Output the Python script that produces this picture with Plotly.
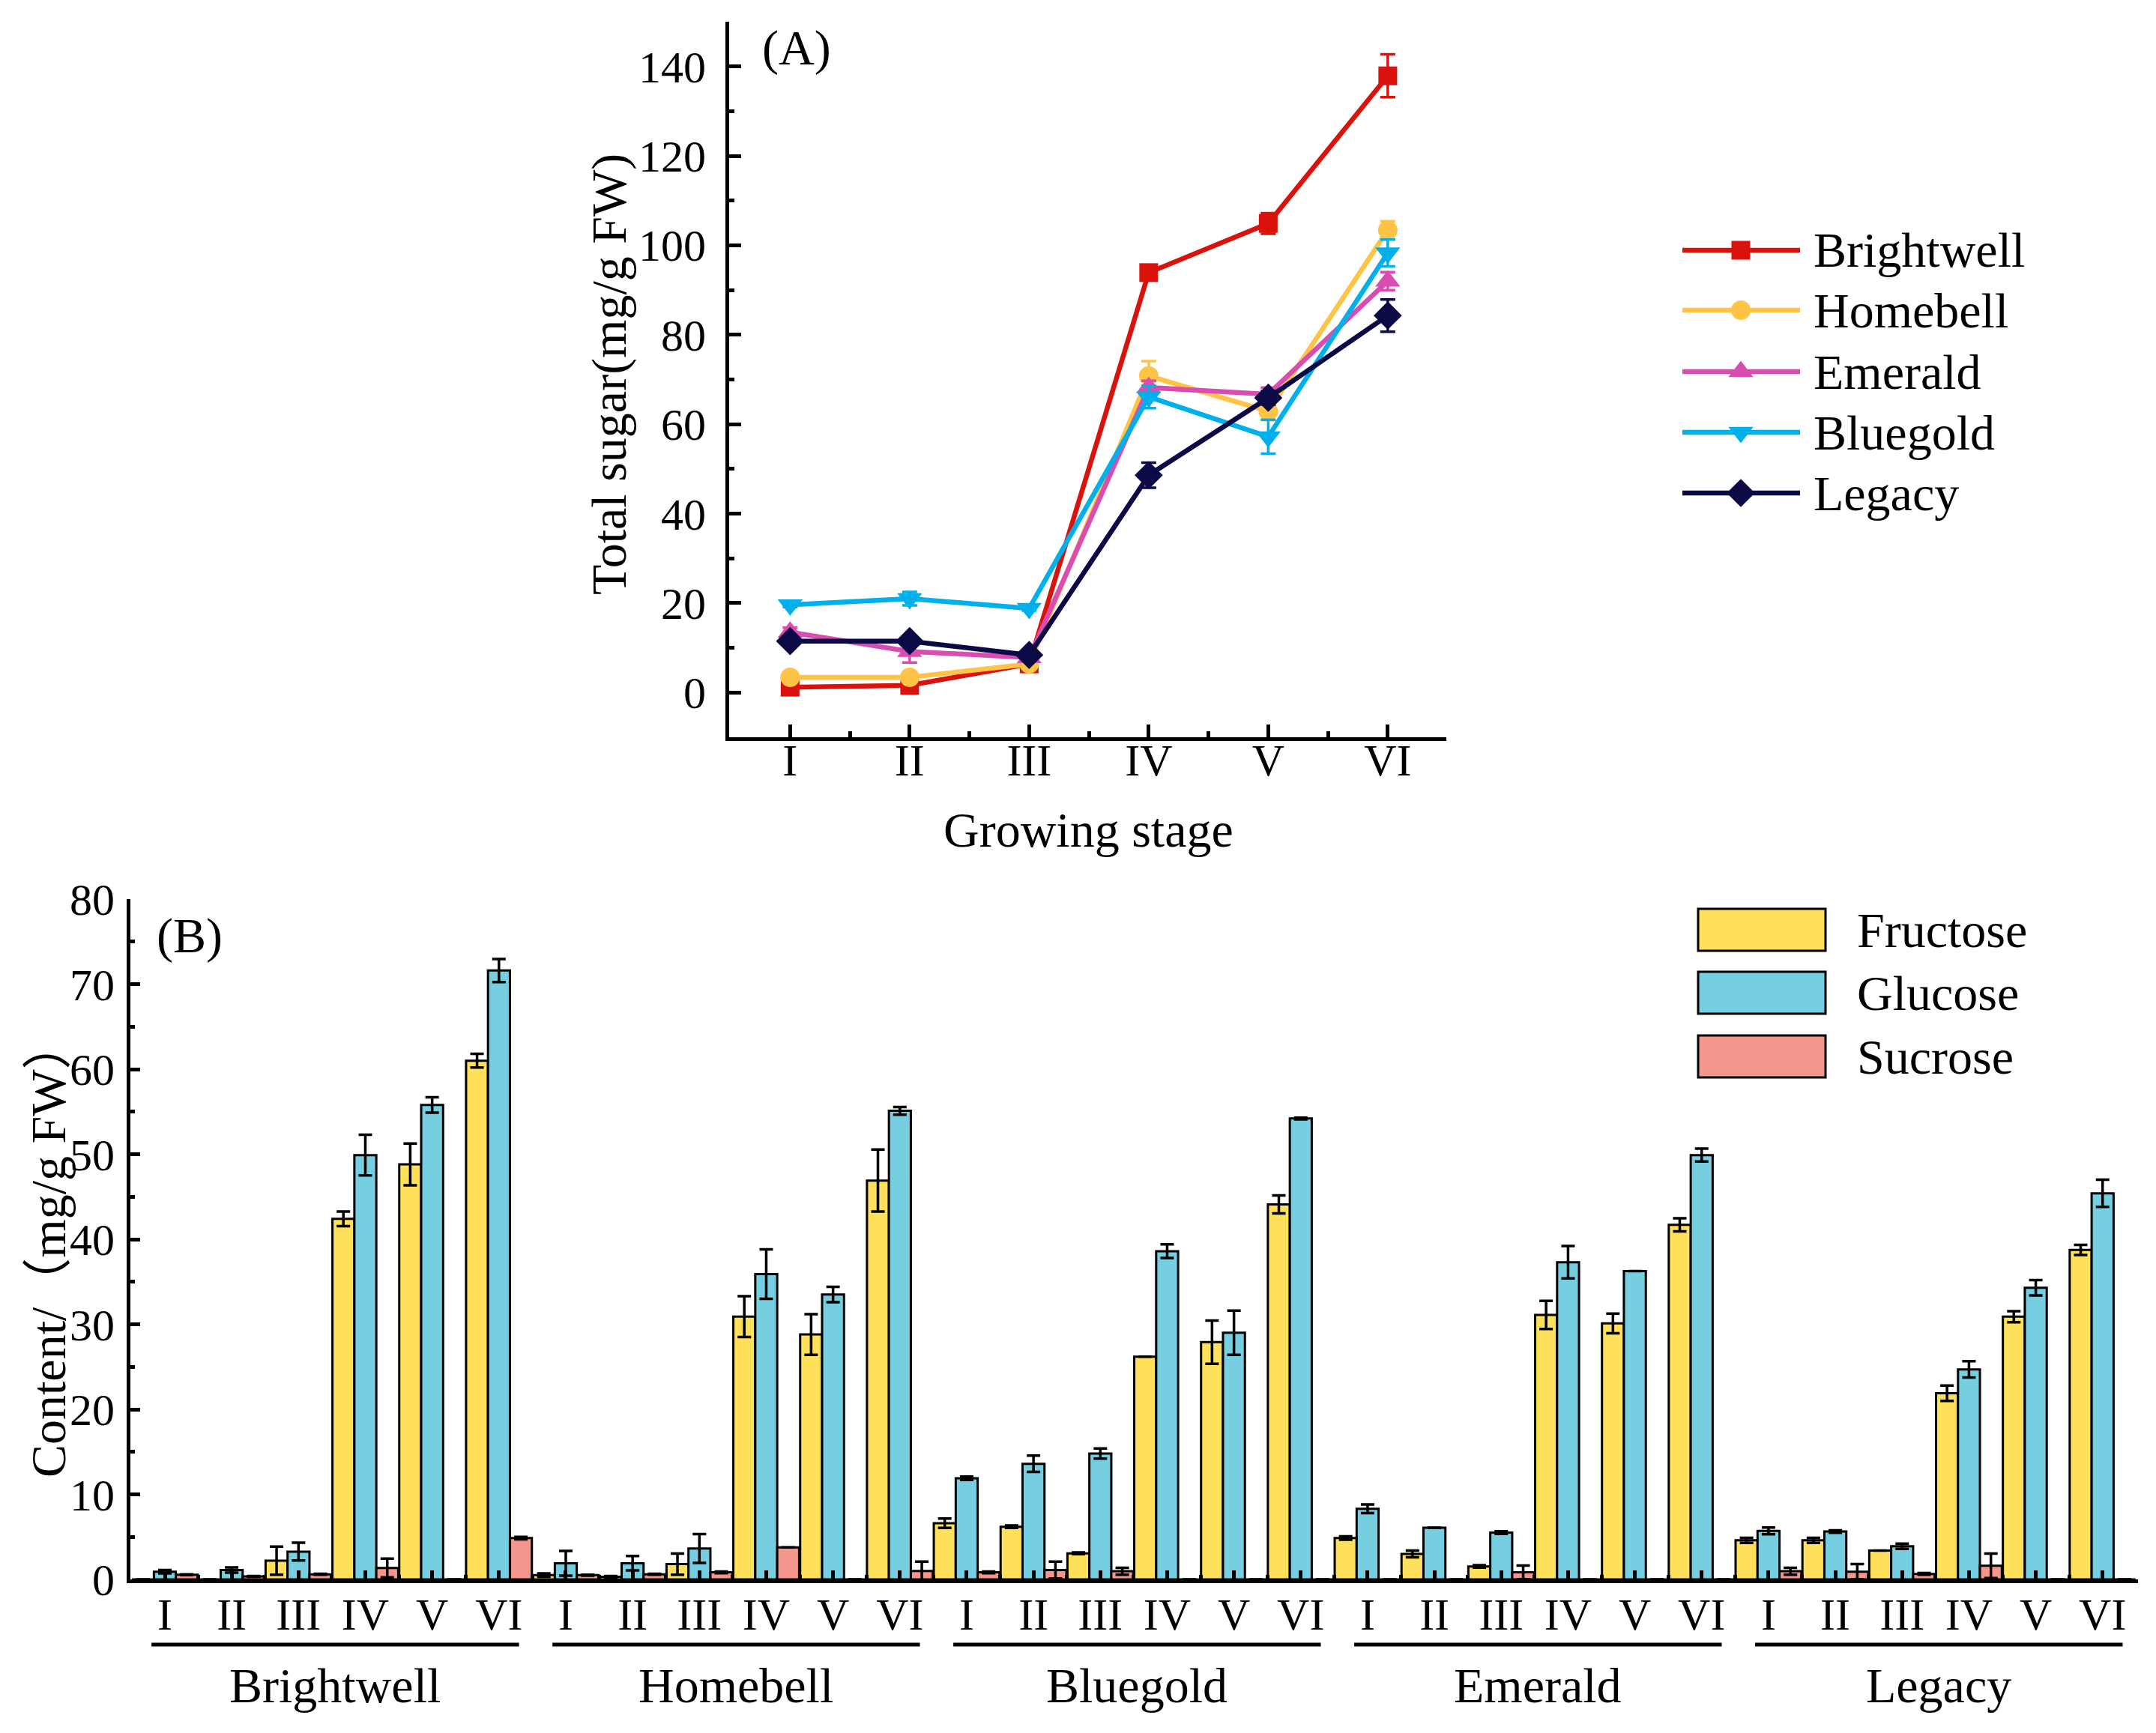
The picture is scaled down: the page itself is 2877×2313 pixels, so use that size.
import plotly.graph_objects as go

# ---------------- data ----------------
stages = ["I", "II", "III", "IV", "V", "VI"]

# Panel A: total sugar (mg/g FW)
series_a = ["Brightwell", "Homebell", "Emerald", "Bluegold", "Legacy"]
total_brightwell = [1.2, 1.6, 6.4, 93.9, 104.9, 137.9]
total_homebell = [3.4, 3.4, 6.4, 70.8, 62.9, 103.4]
total_emerald = [13.5, 9.2, 7.8, 68.2, 66.7, 92.0]
total_bluegold = [19.6, 21.0, 18.8, 66.1, 57.2, 98.3]
total_legacy = [11.5, 11.5, 8.4, 48.6, 65.9, 84.3]

err_brightwell = [0.3, 0.5, 0.5, 1.0, 2.3, 4.8]
err_homebell = [0.4, 0.4, 0.5, 3.3, 2.0, 2.0]
err_emerald = [1.0, 2.5, 0.5, 1.5, 1.5, 2.0]
err_bluegold = [0.5, 1.5, 0.5, 2.5, 3.8, 3.0]
err_legacy = [0.8, 0.8, 1.0, 2.8, 1.5, 3.6]

# Panel B: sugar components (mg/g FW), groups x stages
groups_b = ["Brightwell", "Homebell", "Bluegold", "Emerald", "Legacy"]
sugars_b = ["Fructose", "Glucose", "Sucrose"]
fructose = [0, 0, 2.2, 42.4, 48.8, 61.0,
            0.5, 0.3, 1.8, 30.9, 28.8, 46.9,
            6.6, 6.2, 3.07, 26.2, 27.9, 44.1,
            4.86, 3.0, 1.53, 31.1, 30.1, 41.7,
            4.6, 4.6, 3.4, 21.9, 30.9, 38.75]
glucose = [0.9, 1.1, 3.27, 49.9, 55.8, 71.6,
           1.9, 1.9, 3.64, 35.9, 33.5, 55.1,
           11.9, 13.6, 14.8, 38.6, 29.0, 54.2,
           8.3, 6.07, 5.5, 37.3, 36.25, 49.9,
           5.7, 5.63, 3.9, 24.7, 34.3, 45.4]
sucrose = [0.55, 0.35, 0.6, 1.34, 0, 4.86,
           0.5, 0.6, 0.83, 3.77, 0, 1.0,
           0.83, 1.1, 0.96, 0, 0, 0,
           0, 0, 0.83, 0, 0, 0,
           0.96, 0.9, 0.64, 1.6, 0, 0]
fructose_err = [None, None, 1.66, 0.86, 2.45, 0.8,
                0.2, 0.1, 1.25, 2.4, 2.4, 3.65,
                0.55, 0.15, 0.1, None, 2.55, 1.05,
                0.2, 0.4, 0.15, 1.65, 1.15, 0.77,
                0.3, 0.3, None, 0.9, 0.65, 0.6]
glucose_err = [0.2, 0.3, 1.05, 2.4, 0.9, 1.35,
               1.45, 0.85, 1.7, 2.9, 0.9, 0.45,
               0.2, 0.95, 0.6, 0.8, 2.6, 0.1,
               0.5, None, 0.15, 1.9, None, 0.75,
               0.4, 0.15, 0.3, 0.95, 0.9, 1.6]
sucrose_err = [0.05, 0.05, 0.05, 1.1, None, 0.15,
               0.05, 0.05, 0.1, None, None, 1.1,
               0.1, 1.0, 0.4, None, None, None,
               None, None, 0.8, None, None, None,
               0.4, 0.9, 0.1, 1.45, None, None]

# ---------------- style ----------------
W, H = 2877, 2313
FONT = "Liberation Serif"
colors_a = ["#D9120C", "#FFC446", "#D94CB0", "#00B0EB", "#0C0A46"]
symbols_a = ["square", "circle", "triangle-up", "triangle-down", "diamond"]
msizes_a = [25, 26, 29, 29, 29]
colors_b = ["#FFE05A", "#76CFE0", "#F4968C"]

totals = [total_brightwell, total_homebell, total_emerald, total_bluegold, total_legacy]
errs = [err_brightwell, err_homebell, err_emerald, err_bluegold, err_legacy]


def px_x(p):
    return p / W


def px_y(p):
    return 1 - p / H


fig = go.Figure()

# ---- Panel A lines ----
xa = list(range(len(stages)))
for name, vals, er, col, sym, ms in zip(series_a, totals, errs, colors_a, symbols_a, msizes_a):
    fig.add_trace(go.Scatter(
        x=xa, y=vals, mode="lines+markers", name=name,
        line=dict(color=col, width=6.5),
        marker=dict(symbol=sym, size=ms, color=col, line=dict(width=0)),
        error_y=dict(type="data", array=er, color=col, thickness=3.5, width=10),
        xaxis="x", yaxis="y", showlegend=False, cliponaxis=False))

# ---- Panel B bars ----
xb = list(range(len(groups_b) * len(stages)))
for name, vals, er, col in zip(sugars_b, [fructose, glucose, sucrose],
                               [fructose_err, glucose_err, sucrose_err], colors_b):
    fig.add_trace(go.Bar(
        x=xb, y=vals, name=name,
        marker=dict(color=col, line=dict(color="black", width=3)),
        error_y=dict(type="data", array=er, color="black", thickness=3.5, width=9),
        xaxis="x2", yaxis="y2", showlegend=False))

# ---- manual legend for panel A (overlay pixel axis) ----
leg_a_rows = [334, 414, 496, 577, 658]
leg_a_line = [2245, 2402]
leg_a_mark = 2323
for name, col, sym, ms, ry in zip(series_a, colors_a, symbols_a, msizes_a, leg_a_rows):
    fig.add_trace(go.Scatter(
        x=leg_a_line, y=[ry, ry], mode="lines",
        line=dict(color=col, width=6.5),
        xaxis="x3", yaxis="y3", showlegend=False, hoverinfo="skip"))
    fig.add_trace(go.Scatter(
        x=[leg_a_mark], y=[ry], mode="markers",
        marker=dict(symbol=sym, size=ms, color=col, line=dict(width=0), opacity=1),
        xaxis="x3", yaxis="y3", showlegend=False, hoverinfo="skip"))

annotations = []
shapes = []
for name, ry in zip(series_a, leg_a_rows):
    annotations.append(dict(x=px_x(2418), y=px_y(ry), xref="paper", yref="paper",
                            text=name, showarrow=False, xanchor="left", yanchor="middle",
                            font=dict(family=FONT, size=66, color="black")))

# ---- manual legend for panel B ----
leg_b_rows = [1241, 1325, 1410]
for name, col, ry in zip(sugars_b, colors_b, leg_b_rows):
    shapes.append(dict(type="rect", xref="paper", yref="paper",
                       x0=px_x(2266), x1=px_x(2436), y0=px_y(ry + 28), y1=px_y(ry - 28),
                       fillcolor=col, line=dict(color="black", width=3)))
    annotations.append(dict(x=px_x(2476), y=px_y(ry), xref="paper", yref="paper",
                            text=name, showarrow=False, xanchor="left", yanchor="middle",
                            font=dict(family=FONT, size=66, color="black")))

# ---- group underlines and labels for panel B ----
n = len(stages)
for gi, g in enumerate(groups_b):
    x0 = gi * n - 0.2
    x1 = gi * n + n - 1 + 0.3
    shapes.append(dict(type="line", xref="x2", yref="paper", x0=x0, x1=x1,
                       y0=px_y(2195), y1=px_y(2195), line=dict(color="black", width=5)))
    annotations.append(dict(x=(x0 + x1) / 2, y=px_y(2249), xref="x2", yref="paper",
                            text=g, showarrow=False, xanchor="center", yanchor="middle",
                            font=dict(family=FONT, size=66, color="black")))

# ---- panel labels and axis titles ----
annotations += [
    dict(x=px_x(1015), y=px_y(64), xref="paper", yref="paper", text="(A)", showarrow=False,
         xanchor="left", yanchor="middle", font=dict(family=FONT, size=66, color="black")),
    dict(x=px_x(207), y=px_y(1249), xref="paper", yref="paper", text="(B)", showarrow=False,
         xanchor="left", yanchor="middle", font=dict(family=FONT, size=66, color="black")),
    dict(x=px_x(813), y=px_y(500), xref="paper", yref="paper", text="Total sugar(mg/g FW)",
         showarrow=False, textangle=-90, xanchor="center", yanchor="middle",
         font=dict(family=FONT, size=66, color="black")),
    dict(x=px_x(1452), y=px_y(1107), xref="paper", yref="paper", text="Growing stage",
         showarrow=False, xanchor="center", yanchor="middle",
         font=dict(family=FONT, size=66, color="black")),
    dict(x=px_x(64), y=px_y(1667), xref="paper", yref="paper", text="Content/（mg/g FW）",
         showarrow=False, textangle=-90, xanchor="center", yanchor="middle",
         font=dict(family=FONT + ", Noto Sans CJK SC", size=66, color="black")),
]

tickfont = dict(family=FONT, size=60, color="black")
axis_common = dict(showline=True, linecolor="black", linewidth=5, showgrid=False,
                   zeroline=False, ticks="inside", tickcolor="black", tickwidth=5,
                   tickfont=tickfont, mirror=False, automargin=False)

fig.update_layout(
    width=W, height=H, margin=dict(l=0, r=0, t=0, b=0, pad=0, autoexpand=False),
    paper_bgcolor="white", plot_bgcolor="rgba(0,0,0,0)",
    barmode="group", bargap=0.015, bargroupgap=0,
    showlegend=False,
    xaxis=dict(domain=[px_x(973), px_x(1930)], range=[-0.51, 5.49], anchor="y",
               tickmode="array", tickvals=xa, ticktext=stages, ticklen=17,
               ticklabelstandoff=-26,
               minor=dict(tickmode="array", tickvals=[i + 0.5 for i in xa[:-1]],
                          ticks="inside", ticklen=8, tickwidth=5, tickcolor="black"),
               **axis_common),
    yaxis=dict(domain=[px_y(984), px_y(29)], range=[-10, 150], anchor="x",
               tickmode="array", tickvals=list(range(0, 141, 20)), ticklen=16,
               ticklabelstandoff=14,
               minor=dict(tickmode="array", tickvals=list(range(10, 150, 20)),
                          ticks="inside", ticklen=7, tickwidth=5, tickcolor="black"),
               **axis_common),
    xaxis2=dict(domain=[px_x(174), px_x(2853)], range=[-0.516, 29.53], anchor="y2",
                tickmode="array", tickvals=xb, ticktext=stages * len(groups_b), ticklen=12,
                ticklabelstandoff=-10,
                minor=dict(tickmode="array", tickvals=[i + 0.5 for i in xb[:-1]],
                           ticks="inside", ticklen=6, tickwidth=5, tickcolor="black"),
                **axis_common),
    yaxis2=dict(domain=[px_y(2108), px_y(1200)], range=[0, 80], anchor="x2",
                tickmode="array", tickvals=list(range(0, 81, 10)), ticklen=13,
                ticklabelstandoff=4,
                minor=dict(tickmode="array", tickvals=list(range(5, 80, 10)),
                           ticks="inside", ticklen=6, tickwidth=5, tickcolor="black"),
                **axis_common),
    xaxis3=dict(domain=[0, 1], range=[0, W], visible=False, anchor="y3", fixedrange=True),
    yaxis3=dict(domain=[0, 1], range=[H, 0], visible=False, anchor="x3", fixedrange=True),
    annotations=annotations, shapes=shapes,
)

fig.write_html("out.html")
